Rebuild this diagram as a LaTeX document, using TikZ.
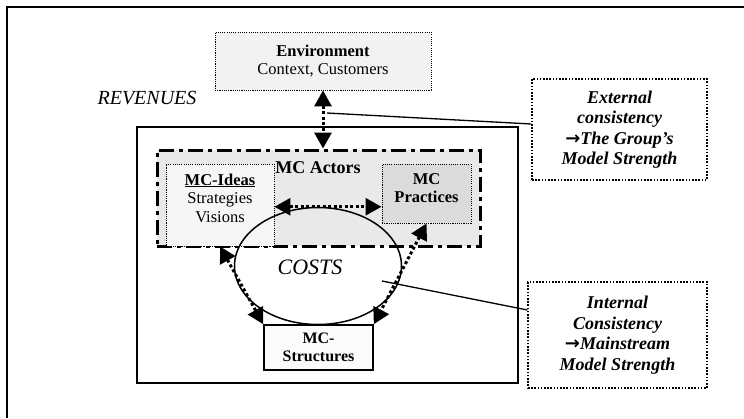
\documentclass[tikz,border=0pt]{standalone}
\usepackage{fontspec}
\setmainfont{Liberation Serif}
\newfontfamily\arrowfont{DejaVu Sans}
\newcommand{\bigarrow}{{\arrowfont\bfseries\upshape →}}
\usetikzlibrary{arrows.meta,positioning,shapes.geometric}

\begin{document}
\begin{tikzpicture}[x=1pt,y=-1pt,>={Triangle[length=16pt,width=17pt]},
  every node/.style={inner sep=0pt,align=center},
  txt/.style={font=\fontsize{16.5}{18.5}\selectfont},
  fbox/.style={draw=black,line width=0.9pt,dash pattern=on 1.1pt off 1.1pt},
  cons/.style={fbox,line width=1.2pt,dash pattern=on 1.6pt off 1.6pt,font=\fontsize{18}{20.5}\selectfont\bfseries\itshape},
  actbox/.style={draw=black,line width=3pt,dash pattern=on 15pt off 5pt on 4pt off 5pt,fill=gray!17},
  dotarrow/.style={<->,line width=3pt,dash pattern=on 3pt off 2.5pt}]
\useasboundingbox (0,0) rectangle (744,418);
\draw[line width=2pt] (7,418) -- (7,7) -- (744,7);
\node[fbox,fill=gray!10,minimum width=216pt,minimum height=58pt,txt] (env) at (323,61) {\textbf{Environment}\\Context, Customers};
\node[font=\fontsize{20}{22}\selectfont\itshape] (rev) at (147,98) {REVENUES};
\node[cons,minimum width=175pt,minimum height=101pt] (ext) at (619.5,129.5) {External\\consistency\\\bigarrow The Group’s\\Model Strength};
\node[cons,minimum width=179pt,minimum height=106pt] (int) at (617.5,335) {Internal\\Consistency\\\bigarrow Mainstream\\Model Strength};
% firm frame with the MC actors
\node[draw=black,line width=1.5pt,minimum width=381pt,minimum height=256pt] (firm) at (327.5,255) {};
\node[actbox,minimum width=323pt,minimum height=96pt] (actors) at (318.5,198) {};
\node[fbox,fill=gray!7,minimum width=108pt,minimum height=82pt] (ideas) at (220,205) {};
\node[txt] (ideastxt) at (220,198) {\underline{\textbf{MC-Ideas}}\\Strategies\\Visions};
\node[fbox,fill=gray!28,minimum width=89pt,minimum height=59pt] (practices) at (426.5,193.5) {};
\node[txt,font=\fontsize{16.5}{18.5}\selectfont\bfseries] (practxt) at (426.5,188) {MC\\Practices};
\node[font=\fontsize{18}{20}\selectfont\bfseries] (actlab) at (318,168) {MC Actors};
\node[draw=black,line width=1.5pt,ellipse,minimum width=167pt,minimum height=117pt] (costs) at (318,266) {};
\node[font=\fontsize{22}{24}\selectfont\itshape] (coststxt) at (310,267) {COSTS};
\node[draw=black,line width=1.6pt,fill=gray!3,minimum width=109pt,minimum height=45pt,txt,font=\fontsize{16}{17.5}\selectfont\bfseries] (struct) at (318.5,347.5) {MC-\\Structures};
% links
\coordinate (ea) at (327,113);
\coordinate (ci) at (382,281);
\draw[line width=1.3pt] (ea) -- ([yshift=5.5pt]ext.west);
\draw[line width=1.3pt] (ci) -- ([yshift=25pt]int.west);
\draw[dotarrow] (env.south) -- (env.south |- actors.north);
\draw[dotarrow] (ideas.east |- costs.north) -- (practices.west |- costs.north);
\draw[dotarrow] (ideas.south) -- (struct.north west);
\draw[dotarrow] (practices.south) -- (struct.north east);
\end{tikzpicture}
\end{document}
